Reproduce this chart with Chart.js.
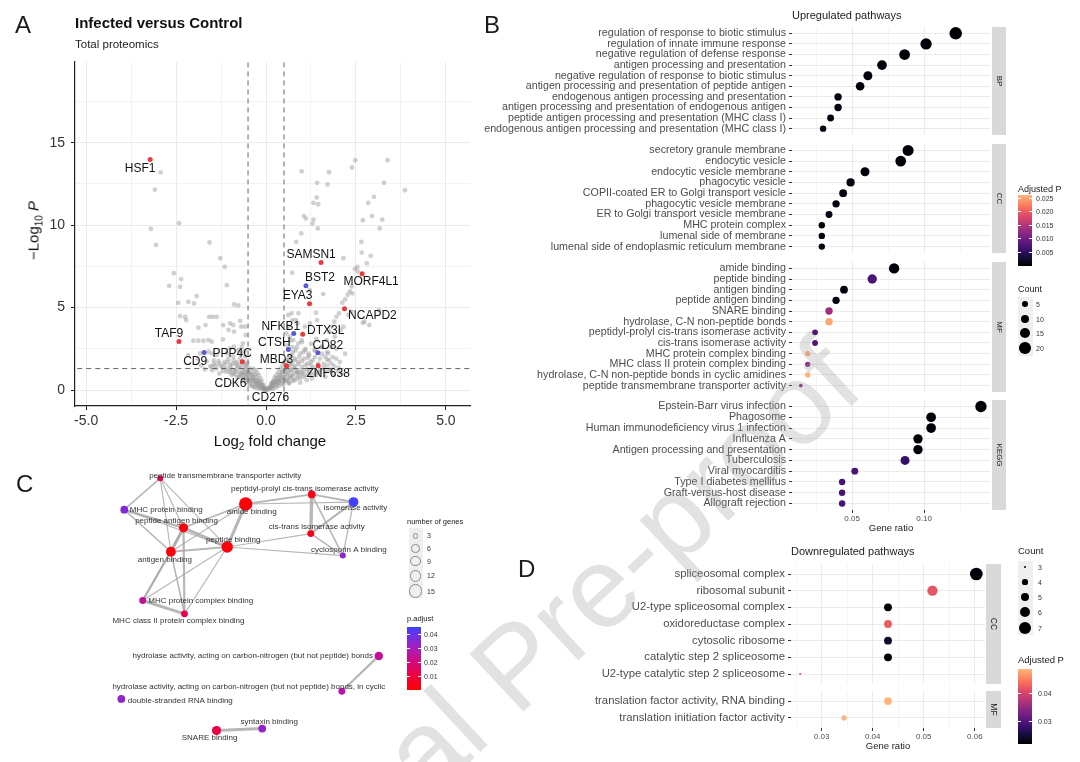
<!DOCTYPE html>
<html>
<head>
<meta charset="utf-8">
<script src="https://cdn.jsdelivr.net/npm/chart.js@4.4.1/dist/chart.umd.min.js"></script>
<style>
  body { margin: 0; background: #fff; font-family: "Liberation Sans", Arial, sans-serif; }
  #page { position: relative; width: 1080px; height: 762px; overflow: hidden; background: #fff; }
  .t { position: absolute; white-space: nowrap; color: #1a1a1a; }
  .abs { position: absolute; }
</style>
</head>
<body>
<div id="page"></div>
<script>
// ---------- panel A : volcano ----------
const fcCut = 0.5;
const pCut = 1.301;            // -log10(0.05)
const volcanoXTicks = [-5, -3.75, -2.5, -1.25, 0, 1.25, 2.5, 3.75, 5];
const volcanoXLabels = [-5, -2.5, 0, 2.5, 5];
const volcanoYTicks = [0, 2.5, 5, 7.5, 10, 12.5, 15, 17.5];
const volcanoYLabels = [0, 5, 10, 15];

// non-labelled proteins [log2FC, -log10 P]
const bgPoints = [
  [-2.93,13.2],[-3.09,12.16],[-2.42,10.12],[-3.2,9.78],[-3.06,8.81],[-1.57,8.95],[-1.27,8.0],[-1.15,7.47],
  [-2.56,7.09],[-2.36,6.73],[-2.69,6.32],[-2.39,6.26],[-1.09,6.36],[-1.93,5.7],[-2.44,5.29],[-2.16,5.35],
  [-2.0,5.25],[-0.89,5.19],[-0.77,5.13],[-2.39,4.48],[-2.25,4.44],[-2.22,4.24],[-1.58,4.44],[-1.48,4.44],
  [-1.37,4.44],[-1.68,3.94],[-1.88,3.78],[-1.19,3.94],[-1.0,4.04],[-0.91,3.94],[-0.72,4.2],[-0.69,3.84],
  [-0.58,3.84],[-0.89,3.54],[-1.04,3.64],[-0.57,3.33],[-2.02,2.99],[-1.88,2.99],[-1.74,2.99],[-1.6,3.03],
  [-1.51,2.93],[-1.2,3.07],[-2.16,2.12],[-1.83,2.22],[-1.6,2.32],[-1.51,2.22],[-1.37,2.12],[-1.0,2.53],
  [-0.89,2.63],[-0.77,2.42],[-0.64,2.83],[-1.09,2.22],[-0.91,2.02],[-0.72,1.92],[-0.58,2.02],
  [-1.9,1.9],[-1.65,1.75],[-1.45,1.8],[-1.3,1.6],[-1.15,1.7],[-1.0,1.5],[-0.85,1.6],[-0.75,1.4],
  [-1.55,1.45],[-1.2,1.35],[-0.55,1.5],[-0.62,1.7],[-0.7,2.2],[-0.8,1.5],[-0.9,1.8],[-1.05,1.9],
  [-1.4,1.5],[-1.8,1.5],[-0.52,1.65],[-0.6,2.35],[-0.68,2.6],
  [-1.7,1.25],[-1.5,1.2],[-1.3,1.0],[-1.1,1.1],[-0.95,0.9],[-0.85,1.15],[-0.8,0.75],[-0.7,1.0],
  [-0.65,0.6],[-0.6,0.85],[-0.6,1.25],[-0.55,0.45],[-0.5,0.7],[-0.48,1.1],[-0.45,0.3],[-0.42,0.55],
  [-0.4,0.9],[-0.38,0.2],[-0.35,0.45],[-0.33,0.75],[-0.3,0.15],[-0.28,0.35],[-0.25,0.6],[-0.22,0.1],
  [-0.2,0.3],[-0.18,0.5],[-0.15,0.08],[-0.12,0.22],[-0.1,0.3],[-0.07,0.05],[-0.05,0.15],[-0.02,0.02],
  [0.02,0.03],[0.05,0.12],[0.08,0.06],[0.12,0.15],[0.15,0.4],[0.18,0.25],[0.2,0.08],
  [0.22,0.55],[0.25,0.35],[0.28,0.15],[0.3,0.7],[0.33,0.45],[0.35,0.25],[0.38,0.9],[0.4,0.6],
  [0.43,0.35],[0.45,1.1],[0.48,0.8],[0.5,0.5],[0.52,1.2],[0.55,0.95],[0.6,0.7],[0.62,1.15],
  [0.68,0.9],[0.72,1.2],[0.78,1.0],[0.85,1.15],[0.9,0.85],[1.0,1.05],[1.1,0.9],[1.2,1.15],
  [1.35,1.0],[1.5,1.2],[1.65,1.1],[1.8,1.25],[2.0,1.15],
  [0.58,0.55],[0.65,0.45],[0.7,0.7],[0.8,0.6],[0.95,0.7],[1.05,0.8],[1.25,0.95],[1.4,1.1],
  [-0.75,0.8],[-0.9,1.0],[-1.0,1.2],[-0.55,0.95],[-0.65,1.1],[0.75,0.85],[0.88,1.0],[0.95,1.2],
  [1.15,1.25],[0.42,0.75],[0.35,0.55],[-0.3,0.55],[-0.38,0.65],[-0.22,0.4],[0.28,0.5],[0.18,0.4],
  [0.55,1.5],[0.6,1.8],[0.65,2.1],[0.7,1.6],[0.75,2.3],[0.8,1.9],[0.85,2.6],[0.9,1.7],
  [0.95,2.2],[1.0,2.9],[1.05,1.9],[1.1,2.5],[1.15,1.6],[1.2,2.1],[1.25,2.8],[1.3,1.8],
  [1.35,2.4],[1.4,3.1],[1.5,1.9],[1.55,2.6],[1.6,1.6],[1.7,2.3],[1.75,1.8],[1.85,2.0],
  [1.95,2.5],[2.05,1.7],[2.2,2.2],[0.58,2.7],[0.68,3.0],[0.72,2.6],[0.62,3.84],[0.57,3.43],
  [0.66,3.23],[0.73,4.24],[0.62,4.55],[0.9,4.65],[0.88,4.04],[1.08,3.84],[1.22,4.04],[0.76,3.03],
  [0.9,2.83],[0.99,3.03],[1.08,2.42],[1.17,2.22],[1.36,2.42],[1.55,2.63],[1.64,2.02],[1.73,2.22],
  [1.68,3.03],[1.82,2.63],[1.91,3.23],[0.55,1.35],[0.65,1.4],[0.8,1.45],[1.0,1.4],[1.25,1.5],
  [1.45,1.45],[1.7,1.5],[1.9,1.45],
  [3.38,13.94],[2.48,13.94],[2.39,13.5],[0.99,13.27],[1.75,13.21],[1.42,12.57],[1.71,12.47],[3.28,12.57],
  [3.86,12.12],[1.41,11.68],[1.32,11.35],[3.0,11.72],[2.84,11.35],[1.05,10.55],[1.11,10.4],[1.32,10.34],
  [1.29,10.1],[2.69,10.3],[2.95,10.55],[3.23,10.34],[3.16,9.8],[0.98,9.5],[0.84,8.99],[2.65,8.99],
  [2.66,8.34],[2.91,8.14],[2.15,8.0],[0.73,7.11],[2.47,7.35],[2.55,7.2],[1.59,5.82],[2.38,6.28],
  [2.33,5.98],[2.27,5.78],[2.2,5.5],[2.12,5.3],[1.39,4.69],[1.42,4.24],[2.03,4.65],[1.96,4.44],
  [1.90,4.14],[1.81,3.84],[1.75,3.54],[2.87,3.94],[2.74,4.14],[3.14,4.85],[2.15,3.84],[2.08,3.64],
  [1.45,11.27],[1.44,9.8],[1.22,6.06],[2.54,7.47],[2.8,7.68],[2.4,5.86],[2.69,4.08],[0.71,4.65],
  [0.83,4.24],[2.29,4.55],[2.38,4.75],
  // dense mass left of the V
  [-1.5,1.4],[-1.45,1.6],[-1.38,1.3],[-1.32,1.75],[-1.25,1.45],[-1.2,1.15],[-1.15,1.55],[-1.1,1.3],
  [-1.05,1.7],[-1.0,1.05],[-0.98,1.35],[-0.93,1.6],[-0.9,1.2],[-0.86,0.95],[-0.82,1.3],[-0.8,1.7],
  [-0.76,1.1],[-0.73,0.85],[-0.7,1.35],[-0.68,1.6],[-0.66,0.95],[-0.63,0.7],[-0.6,1.05],[-0.58,1.45],
  [-0.56,0.75],[-0.54,1.2],[-0.52,0.5],[-0.5,0.95],[-0.48,1.35],[-0.46,0.6],[-0.44,1.15],[-0.42,0.35],
  [-0.4,0.75],[-0.38,1.0],[-0.36,1.3],[-0.35,0.6],[-0.33,0.2],[-0.32,0.95],[-0.3,1.2],[-0.28,0.45],
  [-0.27,0.8],[-0.25,1.05],[-0.24,0.3],[-0.22,0.6],[-0.2,0.9],[-0.18,0.15],[-0.17,0.45],[-0.15,0.7],
  [-0.13,0.3],[-0.11,0.5],[-0.09,0.1],[-0.07,0.3],[-0.05,0.05],[-0.03,0.15],[0.0,-0.05],
  // dense mass right of the V
  [0.08,0.05],[0.1,0.15],[0.12,0.25],[0.14,0.1],[0.16,0.4],[0.18,0.2],[0.2,0.55],[0.22,0.35],
  [0.24,0.75],[0.26,0.5],[0.28,0.9],[0.3,0.3],[0.32,0.65],[0.34,1.1],[0.36,0.45],[0.38,0.85],
  [0.4,1.3],[0.42,0.6],[0.44,1.05],[0.46,1.5],[0.48,0.35],[0.5,0.8],[0.52,1.25],[0.54,1.7],
  [0.56,0.6],[0.58,1.0],[0.6,1.45],[0.62,1.9],[0.64,0.4],[0.66,0.8],[0.68,1.2],[0.7,1.65],
  [0.72,2.1],[0.75,0.55],[0.78,1.35],[0.8,1.8],[0.82,2.4],[0.85,0.7],[0.87,1.1],[0.9,1.55],
  [0.92,2.0],[0.95,0.45],[0.98,0.95],[1.0,1.75],[1.03,2.3],[1.06,1.15],[1.1,1.5],[1.13,0.6],
  [1.16,1.95],[1.2,1.0],[1.24,1.7],[1.28,0.7],[1.32,1.35],[1.36,2.0],[1.4,0.9],[1.45,1.6],
  [1.5,1.05],[1.55,2.2],[1.6,1.35],[1.65,0.8],[1.7,1.85],[1.75,1.2],[1.82,1.6],[1.88,0.95],
  [1.95,1.9],[2.02,1.35],[2.1,1.0]
];

const geneNames = ['HSF1','TAF9','CD9','PPP4C','CDK6','CD276','MBD3','CTSH','NFKB1','DTX3L','CD82','ZNF638','EYA3','BST2','SAMSN1','MORF4L1','NCAPD2'];
const geneLfc   = [-3.22,-2.42,-1.72,-0.66,-0.46,-0.07,0.57,0.62,0.77,1.02,1.44,1.45,1.21,1.11,1.53,2.67,2.18];
const geneLogP  = [13.98,2.95,2.28,1.72,0.9,0.03,1.47,2.46,3.43,3.39,2.26,1.47,5.23,6.32,7.74,7.05,4.93];
const geneClass = ['r','r','b','r','n','n','r','b','b','r','b','r','r','b','r','r','r'];

// ---------- panel B : upregulated pathways ----------
const bpTerms = ['regulation of response to biotic stimulus','regulation of innate immune response','negative regulation of defense response','antigen processing and presentation','negative regulation of response to biotic stimulus','antigen processing and presentation of peptide antigen','endogenous antigen processing and presentation','antigen processing and presentation of endogenous antigen','peptide antigen processing and presentation (MHC class I)','endogenous antigen processing and presentation (MHC class I)'];
const bpRatio = [0.122, 0.1014, 0.0865, 0.0708, 0.061, 0.0556, 0.0403, 0.0403, 0.0351, 0.0299];
const bpCount = [23, 19, 17, 14, 12, 11, 8, 8, 7, 6];
const bpPadj  = [0.0002, 0.0002, 0.0003, 0.0004, 0.0006, 0.0005, 0.0008, 0.0008, 0.0009, 0.001];

const ccTerms = ['secretory granule membrane','endocytic vesicle','endocytic vesicle membrane','phagocytic vesicle','COPII-coated ER to Golgi transport vesicle','phagocytic vesicle membrane','ER to Golgi transport vesicle membrane','MHC protein complex','lumenal side of membrane','lumenal side of endoplasmic reticulum membrane'];
const ccRatio = [0.0889, 0.0838, 0.059, 0.049, 0.0438, 0.0389, 0.034, 0.029, 0.029, 0.029];
const ccCount = [18, 17, 12, 10, 9, 8, 7, 6, 6, 6];
const ccPadj  = [0.0003, 0.0003, 0.0006, 0.0008, 0.0009, 0.0009, 0.001, 0.0007, 0.0008, 0.0009];

const mfTerms = ['amide binding','peptide binding','antigen binding','peptide antigen binding','SNARE binding','hydrolase, C-N non-peptide bonds','peptidyl-prolyl cis-trans isomerase activity','cis-trans isomerase activity','MHC protein complex binding','MHC class II protein complex binding','hydrolase, C-N non-peptide bonds in cyclic amidines','peptide transmembrane transporter activity'];
const mfRatio = [0.0792, 0.064, 0.0444, 0.0389, 0.034, 0.034, 0.0243, 0.0243, 0.0192, 0.0192, 0.0192, 0.0144];
const mfCount = [16, 13, 9, 8, 8, 8, 5, 5, 4, 4, 4, 2];
const mfPadj  = [0.0004, 0.0075, 0.0006, 0.0008, 0.0135, 0.025, 0.0078, 0.0078, 0.0255, 0.0125, 0.0255, 0.0125];

const keggTerms = ['Epstein-Barr virus infection','Phagosome','Human immunodeficiency virus 1 infection','Influenza A','Antigen processing and presentation','Tuberculosis','Viral myocarditis','Type I diabetes mellitus','Graft-versus-host disease','Allograft rejection'];
const keggRatio = [0.1395, 0.1049, 0.1049, 0.0958, 0.0958, 0.0868, 0.0519, 0.0431, 0.0431, 0.0431];
const keggCount = [19, 14, 14, 13, 13, 12, 7, 6, 6, 6];
const keggPadj  = [0.0003, 0.0003, 0.0004, 0.0003, 0.0004, 0.0058, 0.0072, 0.0072, 0.0072, 0.0072];

const upXTicks = [0.025, 0.05, 0.075, 0.1, 0.125];
const upXLabels = [0.05, 0.1];
const upPadjTicks = [0.005, 0.01, 0.015, 0.02, 0.025];
const upCountBreaks = [5, 10, 15, 20];

// ---------- panel C : enrichment map ----------
const cTerms = ['peptide transmembrane transporter activity','MHC protein binding','peptide antigen binding','amide binding','peptidyl-prolyl cis-trans isomerase activity','isomerase activity','cis-trans isomerase activity','peptide binding','antigen binding','cyclosporin A binding','MHC protein complex binding','MHC class II protein complex binding','hydrolase activity, acting on carbon-nitrogen (but not peptide) bonds','hydrolase activity, acting on carbon-nitrogen (but not peptide) bonds, in cyclic','double-stranded RNA binding','syntaxin binding','SNARE binding'];
const cLayoutX = [-1.84,-2.58,-1.36,-0.08,1.28,2.14,1.26,-0.46,-1.62,1.92,-2.20,-1.34,2.66,1.90,-2.64,0.26,-0.68];
const cLayoutY = [2.96,2.30,1.92,2.42,2.62,2.46,1.80,1.52,1.42,1.34,0.40,0.12,-0.76,-1.50,-1.66,-2.28,-2.32];
const cGenes = [3,5,7,15,5,8,4,11,8,3,4,4,6,4,5,5,7];
const cPadj  = [0.012,0.036,0.003,0.001,0.004,0.045,0.004,0.002,0.002,0.035,0.025,0.012,0.024,0.027,0.034,0.032,0.012];
const cEdges = [[0,1],[0,2],[0,8],[0,7],[1,2],[1,8],[1,7],[2,8],[2,7],[2,3],[8,7],[8,3],[3,7],[3,4],[3,5],[7,6],[7,9],[4,5],[4,6],[4,9],[5,6],[5,9],[6,9],[8,10],[8,11],[2,10],[2,11],[7,10],[7,11],[10,11],[12,13],[16,15]];
const cEdgeSim = [0.3,0.15,0.15,0.15,0.6,0.3,0.15,0.8,0.8,0.3,0.5,0.15,0.8,0.4,0.15,0.15,0.15,0.4,0.9,0.3,0.5,0.2,0.3,0.5,0.3,0.2,0.5,0.15,0.15,0.8,0.5,0.8];
const cGeneBreaks = [3, 6, 9, 12, 15];
const cPadjTicks = [0.01, 0.02, 0.03, 0.04];

// ---------- panel D : downregulated pathways ----------
const dCcTerms = ['spliceosomal complex','ribosomal subunit','U2-type spliceosomal complex','oxidoreductase complex','cytosolic ribosome','catalytic step 2 spliceosome','U2-type catalytic step 2 spliceosome'];
const dCcRatio = [0.0603, 0.0517, 0.043, 0.043, 0.043, 0.043, 0.0258];
const dCcCount = [7, 6, 5, 5, 5, 5, 3];
const dCcPadj  = [0.0219, 0.0418, 0.0219, 0.0425, 0.0245, 0.0219, 0.0415];
const dMfTerms = ['translation factor activity, RNA binding','translation initiation factor activity'];
const dMfRatio = [0.043, 0.0344];
const dMfCount = [5, 4];
const dMfPadj  = [0.0484, 0.0484];
const downXTicks = [0.025, 0.03, 0.035, 0.04, 0.045, 0.05, 0.055, 0.06];
const downXLabels = [0.03, 0.04, 0.05, 0.06];
const downPadjTicks = [0.03, 0.04];
const downCountBreaks = [3, 4, 5, 6, 7];

// ---------- helpers ----------
const FONT = '"Liberation Sans", Arial, sans-serif';
Chart.defaults.font.family = FONT;
Chart.defaults.animation = false;
Chart.defaults.events = [];
Chart.defaults.plugins.legend.display = false;
Chart.defaults.plugins.tooltip.enabled = false;

const page = document.getElementById('page');

function addText(html, x, cy, size, o = {}) {
  const d = document.createElement('div');
  d.className = 't';
  d.innerHTML = html;
  d.style.fontSize = size + 'px';
  d.style.lineHeight = size + 'px';
  d.style.top = (cy - size * 0.5) + 'px';
  d.style.left = x + 'px';
  if (o.center) d.style.transform = 'translateX(-50%)';
  if (o.bold) d.style.fontWeight = 'bold';
  if (o.color) d.style.color = o.color;
  page.appendChild(d);
  return d;
}
function addBox(x, y, w, h, css) {
  const d = document.createElement('div');
  d.className = 'abs';
  Object.assign(d.style, { left: x + 'px', top: y + 'px', width: w + 'px', height: h + 'px' }, css || {});
  page.appendChild(d);
  return d;
}
function addCanvas(x, y, w, h) {
  const c = document.createElement('canvas');
  c.width = w; c.height = h;
  c.className = 'abs';
  c.style.left = x + 'px'; c.style.top = y + 'px';
  page.appendChild(c);
  return c;
}
function hexRgb(h) { return [1, 3, 5].map(i => parseInt(h.substr(i, 2), 16)); }
function gradColor(stops, pos, t) {
  t = Math.max(0, Math.min(1, t));
  let i = 0;
  while (i < pos.length - 2 && t > pos[i + 1]) i++;
  const f = (t - pos[i]) / (pos[i + 1] - pos[i]);
  const a = hexRgb(stops[i]), b = hexRgb(stops[i + 1]);
  return 'rgb(' + a.map((v, k) => Math.round(v + (b[k] - v) * f)).join(',') + ')';
}
function cssGradient(stops, pos) {
  return 'linear-gradient(to top,' + stops.map((c, i) => c + ' ' + (pos[i] * 100).toFixed(1) + '%').join(',') + ')';
}
const magmaStops = ['#000004','#140e36','#3b0f70','#641a80','#8c2981','#b73779','#de4968','#f7705c','#fe9f6d','#feb77e'];
const magmaPos = [0, 0.1, 0.2, 0.3, 0.4, 0.5, 0.6, 0.7, 0.8, 0.85].map(v => v / 0.85);
const rbStops = ['#ff0000','#f0003c','#d20a7c','#a81cbc','#7030e0','#3f3fff'];
const rbPos = [0, 0.22, 0.45, 0.66, 0.85, 1];

function magmaColor(p, lim) { return gradColor(magmaStops, magmaPos, (p - lim[0]) / (lim[1] - lim[0])); }
// size scale of panel D (area between limits)
function rangeRadius(c, lim) {
  return 1.05 * (1 + 5 * (Math.sqrt(c) - Math.sqrt(lim[0])) / (Math.sqrt(lim[1]) - Math.sqrt(lim[0])));
}
// size scale of panel B (area proportional to count)
function areaRadius(c) { return 1.3 * Math.sqrt(c); }
function nodeRadius(n) { return 1.73 * Math.sqrt(n); }

// facet strip on the right side of a panel
Chart.register({
  id: 'strip',
  afterDraw(chart, args, opts) {
    if (!opts.text) return;
    const { ctx, chartArea: a } = chart;
    ctx.save();
    ctx.fillStyle = '#d9d9d9';
    ctx.fillRect(a.right + opts.gap, a.top, opts.width, a.bottom - a.top);
    ctx.translate(a.right + opts.gap + opts.width / 2, (a.top + a.bottom) / 2);
    ctx.rotate(Math.PI / 2);
    ctx.fillStyle = '#1a1a1a';
    ctx.font = opts.size + 'px ' + FONT;
    ctx.textAlign = 'center';
    ctx.textBaseline = 'middle';
    ctx.fillText(opts.text, 0, 0);
    ctx.restore();
  }
});

// ---------- panel A chart ----------
const classColor = { r: '#ea3a3c', b: '#5a5ad8', n: 'rgba(150,150,150,0.45)' };
const geneLabelOffset = [[-10,9],[-10,-8],[-9,9],[-10,-8],[-19,9],[7,8],[-10,-6],[-14,-7],[-13,-7],[23,-3],[10,-7],[10,8],[-12,-8],[14,-8],[-10,-8],[9,8],[28,7]];

const geneLabels = {
  id: 'geneLabels',
  afterDatasetsDraw(chart) {
    const meta = chart.getDatasetMeta(0);
    const ctx = chart.ctx;
    ctx.save();
    ctx.font = '12px ' + FONT;
    ctx.fillStyle = '#111';
    ctx.textAlign = 'center';
    ctx.textBaseline = 'middle';
    meta.data.forEach((el, i) => {
      ctx.fillText(geneNames[i], el.x + geneLabelOffset[i][0], el.y + geneLabelOffset[i][1]);
    });
    ctx.restore();
  }
};

const dashLine = (pts) => ({
  type: 'line', data: pts, showLine: true, borderColor: '#555', borderWidth: 0.9,
  borderDash: [5, 4], pointRadius: 0, fill: false, order: 1
});

new Chart(addCanvas(0, 0, 480, 440), {
  type: 'scatter',
  data: {
    datasets: [
      {
        data: geneNames.map((g, i) => ({ x: geneLfc[i], y: geneLogP[i] })),
        pointRadius: 2.5, pointBorderWidth: 0,
        pointBackgroundColor: geneClass.map(c => classColor[c]), order: 0
      },
      dashLine([{ x: -fcCut, y: -5 }, { x: -fcCut, y: 25 }]),
      dashLine([{ x: fcCut, y: -5 }, { x: fcCut, y: 25 }]),
      dashLine([{ x: -8, y: pCut }, { x: 8, y: pCut }]),
      {
        data: bgPoints.map(p => ({ x: p[0], y: p[1] })),
        pointRadius: 2.4, pointBorderWidth: 0,
        pointBackgroundColor: 'rgba(150,150,150,0.45)', order: 5
      }
    ]
  },
  options: {
    responsive: false,
    layout: { padding: { left: 0, top: 62, right: 10, bottom: 0 } },
    scales: {
      x: {
        type: 'linear', min: -5.31, max: 5.67,
        afterBuildTicks: s => { s.ticks = volcanoXTicks.map(v => ({ value: v })); },
        ticks: {
          autoSkip: false, maxRotation: 0, padding: 3, color: '#333', font: { size: 14 },
          callback: v => volcanoXLabels.includes(v) ? v.toFixed(1) : ''
        },
        grid: {
          color: '#ebebeb', tickLength: 4,
          lineWidth: c => volcanoXLabels.includes(c.tick.value) ? 1 : 0.6,
          tickColor: c => volcanoXLabels.includes(c.tick.value) ? '#222' : 'rgba(0,0,0,0)'
        },
        border: { display: true, color: '#222', width: 1.2 },
        afterFit: s => { s.height = 34; s.paddingLeft = 0; s.paddingRight = 0; }
      },
      y: {
        type: 'linear', min: -0.97, max: 19.9,
        afterBuildTicks: s => { s.ticks = volcanoYTicks.map(v => ({ value: v })); },
        ticks: {
          autoSkip: false, padding: 6, color: '#333', font: { size: 14 },
          callback: v => volcanoYLabels.includes(v) ? String(v) : ''
        },
        grid: {
          color: '#ebebeb', tickLength: 4,
          lineWidth: c => volcanoYLabels.includes(c.tick.value) ? 1 : 0.6,
          tickColor: c => volcanoYLabels.includes(c.tick.value) ? '#222' : 'rgba(0,0,0,0)'
        },
        border: { display: true, color: '#222', width: 1.2 },
        afterFit: s => { s.width = 75; s.paddingTop = 0; s.paddingBottom = 0; }
      }
    }
  },
  plugins: [geneLabels]
});

addText('A', 15, 25, 24);
addText('Infected versus Control', 75, 22.5, 15, { bold: true, color: '#111' });
addText('Total proteomics', 75, 44.5, 11.5, { color: '#222' });
addText('Log<sub style="font-size:10px;line-height:0">2</sub> fold change', 270, 440, 15, { center: true, color: '#111' });
const yt = addText('&minus;Log<sub style="font-size:10px;line-height:0">10</sub> <i>P</i>', 33, 230, 15, { color: '#111' });
yt.style.transform = 'translate(-50%,0) rotate(-90deg)';
yt.style.transformOrigin = '50% 50%';

// ---------- facet dot plots (B and D) ----------
const PAD = 10;   // room kept free above/below a panel for the first/last label
function facet(x, top, panelH, terms, ratio, count, padj, f, strip, bottom) {
  const h = panelH + PAD + (bottom ? f.axisH : PAD);
  return new Chart(addCanvas(x, top - PAD, 540, h), {
    type: 'scatter',
    data: {
      datasets: [{
        data: terms.map((t, i) => ({ x: ratio[i], y: i })),
        pointRadius: c => f.radius(count[c.dataIndex]),
        pointBackgroundColor: c => magmaColor(padj[c.dataIndex], f.pLim),
        pointBorderWidth: 0
      }]
    },
    options: {
      responsive: false,
      layout: { padding: { left: 0, top: PAD, right: f.padRight, bottom: bottom ? 0 : PAD } },
      plugins: { strip: { text: strip, gap: f.stripGap, width: f.stripW, size: f.stripSize } },
      scales: {
        x: {
          type: 'linear', min: f.xLim[0], max: f.xLim[1],
          afterBuildTicks: s => { s.ticks = f.xTicks.map(v => ({ value: v })); },
          ticks: {
            display: bottom, autoSkip: false, maxRotation: 0, padding: 1, color: '#4d4d4d', font: { size: 8 },
            callback: v => f.xLabels.includes(v) ? v.toFixed(2) : ''
          },
          grid: {
            color: '#ebebeb', drawTicks: bottom, tickLength: 3,
            lineWidth: c => f.xLabels.includes(c.tick.value) ? 1 : 0.5,
            tickColor: c => f.xLabels.includes(c.tick.value) ? '#333' : 'rgba(0,0,0,0)'
          },
          border: { display: false },
          title: { display: bottom, text: 'Gene ratio', color: '#1a1a1a', font: { size: 9.5 }, padding: 0 },
          afterFit: s => { s.height = bottom ? f.axisH : 0; s.paddingLeft = 0; s.paddingRight = 0; }
        },
        y: {
          type: 'linear', reverse: true, min: -0.6, max: terms.length - 0.4,
          afterBuildTicks: s => { s.ticks = terms.map((t, i) => ({ value: i })); },
          ticks: { autoSkip: false, padding: 3, color: '#4d4d4d', font: { size: f.labelSize }, callback: v => terms[v] },
          grid: { color: '#ebebeb', lineWidth: 1, tickLength: 3, tickColor: '#333' },
          border: { display: false },
          afterFit: s => { s.width = f.yAxisW; s.paddingTop = 0; s.paddingBottom = 0; }
        }
      }
    }
  });
}

const upFacet = {
  padRight: 20, yAxisW: 322, stripGap: 2, stripW: 14, stripSize: 8, axisH: 24,
  xLim: [0.0083, 0.1458], xTicks: upXTicks, xLabels: upXLabels,
  labelSize: 10.7, radius: areaRadius, pLim: [0.0001, 0.0261]
};
facet(470, 27, 108, bpTerms, bpRatio, bpCount, bpPadj, upFacet, 'BP', false);
facet(470, 144, 109, ccTerms, ccRatio, ccCount, ccPadj, upFacet, 'CC', false);
facet(470, 262, 130, mfTerms, mfRatio, mfCount, mfPadj, upFacet, 'MF', false);
facet(470, 400, 110, keggTerms, keggRatio, keggCount, keggPadj, upFacet, 'KEGG', true);

const downCountLim = [3, 7];
const downFacet = {
  padRight: 25, yAxisW: 321, stripGap: 1, stripW: 15, stripSize: 8.5, axisH: 24,
  xLim: [0.0240, 0.0620], xTicks: downXTicks, xLabels: downXLabels,
  labelSize: 11.3, radius: c => rangeRadius(c, downCountLim), pLim: [0.0218, 0.0486]
};
facet(470, 564, 120, dCcTerms, dCcRatio, dCcCount, dCcPadj, downFacet, 'CC', false);
facet(470, 691, 37, dMfTerms, dMfRatio, dMfCount, dMfPadj, downFacet, 'MF', true);

addText('B', 484, 25, 24);
addText('Upregulated pathways', 792, 15.5, 11);
addText('D', 518, 569, 24);
addText('Downregulated pathways', 791, 551, 11);

// legends
function colourbar(x, top, w, h, stops, pos, lim, ticks, digits, labelX, size) {
  addBox(x, top, w, h, { background: cssGradient(stops, pos) });
  ticks.forEach(p => {
    const y = top + h - (p - lim[0]) / (lim[1] - lim[0]) * h;
    addBox(x, y - 0.5, 3, 1, { background: '#fff' });
    addBox(x + w - 3, y - 0.5, 3, 1, { background: '#fff' });
    addText(p.toFixed(digits), labelX, y, size, { color: '#333' });
  });
}
function sizeKeys(x, keyTop, keyH, ys, breaks, rFn, labelX, hollow) {
  addBox(x - 7, keyTop, 14.5, keyH, { background: '#efefef' });
  breaks.forEach((b, i) => {
    const r = rFn(b);
    addBox(x - r, ys[i] - r, 2 * r, 2 * r, hollow
      ? { border: '1px solid #8a8a8a', borderRadius: '50%', boxSizing: 'border-box' }
      : { background: '#000', borderRadius: '50%' });
    addText(String(b), labelX, ys[i], 7, { color: '#333' });
  });
}
addText('Adjusted P', 1018, 189, 9);
colourbar(1018, 195, 14, 71, magmaStops, magmaPos, upFacet.pLim, upPadjTicks, 3, 1036, 7);
addText('Count', 1018, 289, 9);
sizeKeys(1025, 297, 59, [304.3, 319, 333.3, 348.3], upCountBreaks, areaRadius, 1036, false);

addText('Count', 1018, 551, 9.5);
sizeKeys(1025, 561, 74, [567, 582, 597, 612, 628], downCountBreaks, downFacet.radius, 1038, false);
addText('Adjusted P', 1018, 660, 9.5);
colourbar(1018, 669, 14, 75, magmaStops, magmaPos, downFacet.pLim, downPadjTicks, 2, 1038, 7);

// ---------- panel C chart ----------
const cLabelDx = [65,42,-7,6,-7,2,6,6,-6,6,58,-6,-126,-93,59,7,-7];
const cLabelDy = [-2,0,-7,8,-6,6,-7,-7,8,-6,0,7,0,-4,2,-7,7];
const cPLim = [0.0002, 0.0454];

const nodeLabels = {
  id: 'nodeLabels',
  afterDatasetsDraw(chart) {
    const meta = chart.getDatasetMeta(0);
    const ctx = chart.ctx;
    ctx.save();
    ctx.font = '8px ' + FONT;
    ctx.fillStyle = '#333';
    ctx.textAlign = 'center';
    ctx.textBaseline = 'middle';
    meta.data.forEach((el, i) => ctx.fillText(cTerms[i], el.x + cLabelDx[i], el.y + cLabelDy[i]));
    ctx.restore();
  }
};

const edgeSets = cEdges.map((e, k) => ({
  type: 'line', showLine: true, pointRadius: 0, fill: false, order: 2,
  borderColor: 'rgba(165,165,165,0.8)', borderWidth: 0.7 + cEdgeSim[k] * 3,
  data: e.map(i => ({ x: cLayoutX[i], y: cLayoutY[i] }))
}));

new Chart(addCanvas(0, 460, 470, 302), {
  type: 'scatter',
  data: {
    datasets: [{
      data: cTerms.map((t, i) => ({ x: cLayoutX[i], y: cLayoutY[i] })),
      pointRadius: cGenes.map(nodeRadius),
      pointBackgroundColor: cPadj.map(p => gradColor(rbStops, rbPos, (p - cPLim[0]) / (cPLim[1] - cPLim[0]))),
      pointBorderWidth: 0, order: 0
    }].concat(edgeSets)
  },
  options: {
    responsive: false,
    layout: { padding: 0 },
    scales: {
      x: { type: 'linear', display: false, min: -5, max: 4.4 },
      y: { type: 'linear', display: false, min: -2.84, max: 3.2 }
    }
  },
  plugins: [nodeLabels]
});

addText('C', 16, 484, 24);
addText('number of genes', 407, 522, 7.5);
sizeKeys(415.5, 528, 70, [535.7, 548.3, 561, 575.7, 591], cGeneBreaks, nodeRadius, 427, true);
addText('p.adjust', 407, 619, 7.5);
colourbar(407, 627, 14, 63, rbStops, rbPos, cPLim, cPadjTicks, 2, 424, 7);

// ---------- watermark ----------
const wm = document.createElement('div');
wm.textContent = 'Journal Pre-proof';
Object.assign(wm.style, {
  position: 'absolute', left: '515px', top: '665px', fontSize: '115px', lineHeight: '1.15',
  color: 'rgba(150,150,150,0.28)', whiteSpace: 'nowrap', pointerEvents: 'none',
  transform: 'translate(-50%,-50%) rotate(-43deg)'
});
page.appendChild(wm);
</script>
</body>
</html>
